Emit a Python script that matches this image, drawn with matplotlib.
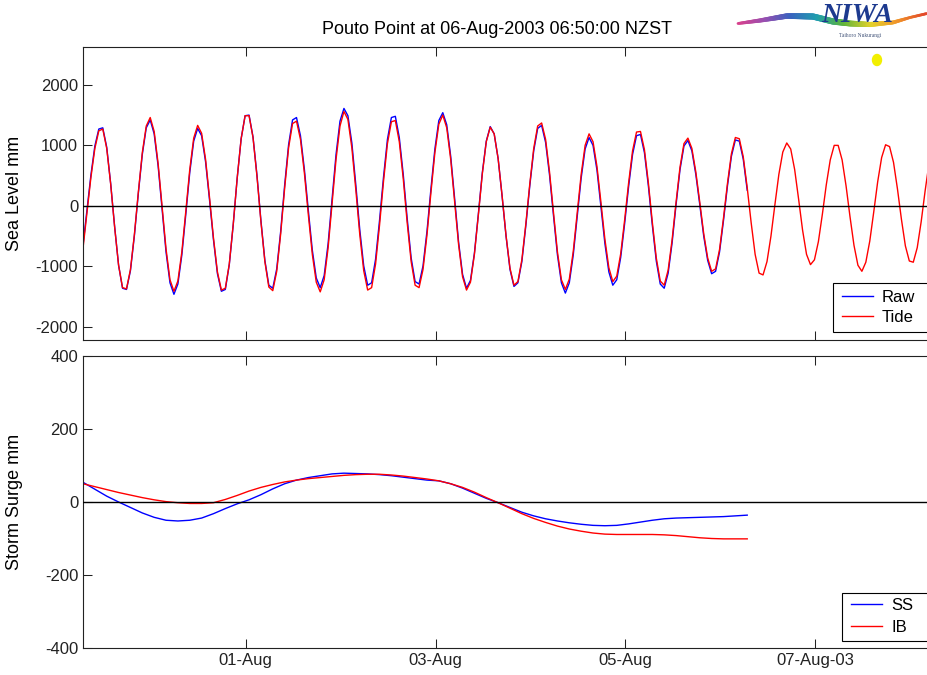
import numpy as np
import matplotlib
matplotlib.use('Agg')
import matplotlib.pyplot as plt
from matplotlib.collections import LineCollection
from matplotlib.patches import Rectangle, Ellipse
from matplotlib.colors import LinearSegmentedColormap

plt.rcParams['font.family'] = ['Liberation Sans', 'DejaVu Sans']
plt.rcParams['axes.unicode_minus'] = False

# ---------------- data ----------------
title = "Pouto Point at 06-Aug-2003 06:50:00 NZST"
start = np.datetime64('2003-07-30T06:50')
end = np.datetime64('2003-08-08T06:50')

# hourly predicted tide (mm), from 30-Jul 06:50
tide_mm = [
    -700, -120, 470, 950, 1240, 1270, 950, 360, -350, -980, -1350, -1370,
    -1050, -470, 230, 880, 1320, 1460, 1230, 700, -10, -710, -1220, -1410,
    -1240, -760, -90, 600, 1120, 1330, 1200, 770, 140, -530, -1090, -1390,
    -1360, -960, -300, 460, 1110, 1490, 1490, 1130, 490, -260, -920, -1340,
    -1400, -1080, -460, 290, 960, 1360, 1400, 1100, 540, -150, -800, -1260,
    -1420, -1220, -690, 30, 770, 1320, 1560, 1430, 960, 270, -470, -1070,
    -1390, -1350, -960, -320, 400, 1030, 1390, 1410, 1060, 450, -280, -920,
    -1310, -1350, -1050, -480, 220, 880, 1350, 1500, 1290, 770, 70, -640,
    -1170, -1390, -1260, -800, -150, 530, 1060, 1300, 1190, 780, 170, -490,
    -1030, -1310, -1250, -890, -300, 360, 950, 1320, 1370, 1100, 560, -110,
    -760, -1220, -1380, -1210, -750, -110, 520, 1000, 1190, 1060, 650, 60,
    -550, -1020, -1250, -1160, -790, -230, 380, 910, 1220, 1230, 930, 380,
    -270, -860, -1240, -1310, -1060, -560, 60, 640, 1030, 1120, 950, 560,
    60, -460, -860, -1080, -1040, -720, -200, 370, 860, 1130, 1110, 810,
    300, -280, -800, -1110, -1140, -920, -500, 20, 520, 890, 1040, 940,
    600, 110, -400, -800, -970, -890, -590, -140, 350, 760, 1000, 1000,
    760, 330, -180, -650, -980, -1080, -930, -580, -100, 400, 800, 1010,
    980, 720, 280, -220, -660, -910, -930, -690, -260, 250, 710, 980,
    1010,
]

# hourly measured sea level (mm), from 30-Jul 06:50
raw_mm = [
    -650, -70, 510, 990, 1270, 1290, 970, 370, -340, -980, -1360, -1380,
    -1070, -490, 210, 850, 1290, 1420, 1190, 660, -60, -760, -1270, -1460,
    -1290, -810, -140, 550, 1070, 1280, 1160, 730, 100, -560, -1120, -1410,
    -1380, -970, -310, 460, 1110, 1490, 1500, 1140, 510, -240, -900, -1310,
    -1360, -1040, -420, 340, 1010, 1420, 1460, 1160, 600, -80, -730, -1190,
    -1350, -1150, -620, 110, 850, 1400, 1610, 1490, 1040, 350, -390, -990,
    -1310, -1270, -880, -240, 470, 1100, 1460, 1480, 1130, 520, -210, -860,
    -1250, -1290, -990, -420, 280, 940, 1410, 1540, 1340, 820, 120, -600,
    -1130, -1360, -1230, -780, -130, 550, 1070, 1310, 1190, 780, 160, -500,
    -1050, -1330, -1270, -920, -330, 330, 910, 1280, 1330, 1050, 510, -160,
    -810, -1270, -1440, -1270, -810, -170, 460, 940, 1130, 1000, 590, -10,
    -620, -1090, -1310, -1220, -850, -290, 320, 850, 1160, 1180, 880, 330,
    -320, -910, -1290, -1360, -1110, -610, 20, 600, 990, 1080, 910, 520,
    20, -500, -900, -1120, -1080, -760, -240, 330, 820, 1090, 1070, 770,
    260,
]

# 3-hourly storm surge and inverse barometer (mm), from 30-Jul 06:50
ss_mm = [
    54, 35, 16, 0, -15, -30, -42, -50, -52, -50, -44, -32, -18, -5, 6, 20,
    36, 50, 60, 67, 72, 77, 79, 78, 77, 75, 72, 68, 64, 60, 58, 50, 38, 24,
    10, -2, -15, -28, -38, -46, -52, -57, -61, -64, -65, -64, -60, -55, -50,
    -46, -44, -43, -42, -41, -40, -38, -36,
]
ib_mm = [
    50, 42, 34, 26, 19, 12, 6, 1, -2, -4, -4, -2, 7, 18, 30, 40, 48, 55, 60,
    64, 67, 70, 73, 75, 76, 76, 74, 71, 67, 63, 58, 50, 40, 27, 12, -2, -17,
    -32, -45, -56, -66, -74, -80, -85, -88, -89, -89, -89, -89, -90, -92, -95,
    -98, -100, -101, -101, -101,
]

x_tick_dates = ['2003-08-01', '2003-08-03', '2003-08-05', '2003-08-07']
x_tick_labels = ['01-Aug', '03-Aug', '05-Aug', '07-Aug-03']
top_yticks = [-2000, -1000, 0, 1000, 2000]
bot_yticks = [-400, -200, 0, 200, 400]
top_ylim = (-2215, 2625)
bot_ylim = (-400, 400)

# ---------------- time axes ----------------
hour = np.timedelta64(1, 'h')
t_tide = start + np.arange(len(tide_mm)) * hour
t_raw = start + np.arange(len(raw_mm)) * hour
t_surge = start + np.arange(len(ss_mm)) * 3 * hour
xticks = np.array(x_tick_dates, dtype='datetime64[m]')

# ---------------- figure ----------------
W, H = 927, 675
fig = plt.figure(figsize=(W / 100, H / 100), dpi=100, facecolor='white')


def fx(px):
    return px / W


def fy(py):
    return 1 - py / H


ax1 = fig.add_axes([fx(83), fy(340), (937 - 83) / W, (340 - 47) / H])
ax2 = fig.add_axes([fx(83), fy(648), (937 - 83) / W, (648 - 356) / H])

l_raw, = ax1.plot(t_raw, raw_mm, color='#0000ff', lw=1.0)
l_tide, = ax1.plot(t_tide, tide_mm, color='#ff0000', lw=1.0)
ax1.axhline(0, color='black', lw=1.0, zorder=3)
ax1.set_ylim(*top_ylim)
ax1.set_yticks(top_yticks)

l_ss, = ax2.plot(t_surge, ss_mm, color='#0000ff', lw=1.0)
l_ib, = ax2.plot(t_surge, ib_mm, color='#ff0000', lw=1.0)
ax2.axhline(0, color='black', lw=1.0, zorder=3)
ax2.set_ylim(*bot_ylim)
ax2.set_yticks(bot_yticks)

for ax in (ax1, ax2):
    ax.set_xlim(start, end)
    ax.set_xticks(xticks)
    ax.set_xticklabels(x_tick_labels)
    ax.tick_params(direction='in', length=6.5, width=0.75, top=True,
                   right=True, labelsize=12, pad=3.5, colors='#222222')
    for sp in ax.spines.values():
        sp.set_linewidth(0.8)
        sp.set_color('#222222')
ax1.tick_params(labelbottom=False)

fig.text(fx(497), fy(29), title, ha='center', va='center', fontsize=13)
fig.text(fx(15), fy(193), 'Sea Level mm', rotation=90, ha='center',
         va='center', fontsize=13)
fig.text(fx(15), fy(502), 'Storm Surge mm', rotation=90, ha='center',
         va='center', fontsize=13)

# legends (box extends past the right edge, as in the reference)
fig.add_artist(Rectangle((fx(833), fy(331.7)), (945 - 833) / W,
                         (331.7 - 283.3) / H, transform=fig.transFigure,
                         fc='white', ec='black', lw=0.8, zorder=2))
fig.legend([l_raw, l_tide], ['Raw', 'Tide'], loc='upper left',
           bbox_to_anchor=(fx(841.7), fy(290)), frameon=False, borderpad=0,
           borderaxespad=0, handlelength=1.86, handletextpad=0.55,
           labelspacing=0.32, fontsize=12)
fig.add_artist(Rectangle((fx(842.3), fy(640.7)), (945 - 842.3) / W,
                         (640.7 - 592.7) / H, transform=fig.transFigure,
                         fc='white', ec='black', lw=0.8, zorder=2))
fig.legend([l_ss, l_ib], ['SS', 'IB'], loc='upper left',
           bbox_to_anchor=(fx(851), fy(597.5)), frameon=False, borderpad=0,
           borderaxespad=0, handlelength=1.86, handletextpad=0.55,
           labelspacing=0.45, fontsize=12)

# NIWA logo (decoration)
cmap = LinearSegmentedColormap.from_list(
    'niwa', ['#d9418c', '#9a4fb0', '#3a62c0', '#1f9fae', '#5fb43a',
             '#e3d22a', '#f0922a', '#e2472a'])
kx = [738, 760, 787, 813, 833, 850, 870, 893, 910, 927]
ky = [23.5, 20.5, 16.0, 16.5, 21.5, 23.5, 24.5, 22.5, 17.5, 13.5]
sx = np.linspace(738, 927, 160)
sy = np.interp(sx, kx, ky)
pts = np.column_stack([fx(sx), fy(sy)]).reshape(-1, 1, 2)
segs = np.concatenate([pts[:-1], pts[1:]], axis=1)
u = np.linspace(0, 1, len(segs))
widths = 2.0 + 2.5 * np.sin(np.pi * np.clip(u * 1.1, 0, 1))
lc = LineCollection(segs, colors=cmap(u), linewidths=widths,
                    transform=fig.transFigure, capstyle='round')
fig.add_artist(lc)
fig.text(fx(857), fy(15), 'NIWA', fontsize=20, family='Liberation Serif',
         style='italic', weight='bold', color='#1d3a8f', ha='center',
         va='center', zorder=5)
fig.text(fx(860), fy(36), 'Taihoro Nukurangi', fontsize=4,
         family='Liberation Serif', color='#44557a', ha='center', va='center')
fig.add_artist(Ellipse((fx(877), fy(60)), 9 / W, 11 / H,
                       transform=fig.transFigure, color='#f2ef00'))

fig.savefig('out.png', dpi=100, facecolor='white')
